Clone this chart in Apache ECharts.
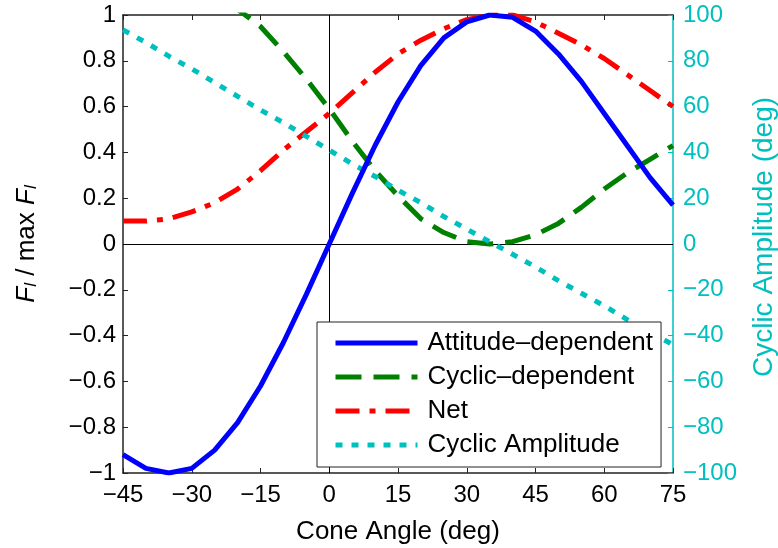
<!DOCTYPE html>
<html>
<head>
<meta charset="utf-8">
<script src="https://cdn.jsdelivr.net/npm/echarts@6/dist/echarts.min.js"></script>
<style>
  html, body { margin: 0; padding: 0; background: #fff; }
  #chart { width: 778px; height: 548px; }
</style>
</head>
<body>
<div id="chart"></div>
<script>
// cone angle samples (deg)
var coneAngle = [-45, -40, -35, -30, -25, -20, -15, -10, -5, 0, 5, 10, 15,
                 20, 25, 30, 35, 40, 45, 50, 55, 60, 65, 70, 75];

// F_l / max F_l
var attitudeDep = [-0.92, -0.98, -1.0, -0.98, -0.9, -0.78, -0.62, -0.43, -0.22, 0, 0.22, 0.43, 0.62,
                   0.78, 0.9, 0.97, 1.0, 0.99, 0.93, 0.83, 0.71, 0.57, 0.43, 0.29, 0.17];
var cyclicDep = [1.02, 1.08, 1.11, 1.12, 1.08, 1.025, 0.95, 0.84, 0.72, 0.59, 0.45, 0.32, 0.21,
                 0.11, 0.05, 0.01, 0.0, 0.01, 0.04, 0.09, 0.16, 0.24, 0.31, 0.37, 0.43];
var netForce = [0.1, 0.1, 0.11, 0.14, 0.18, 0.24, 0.32, 0.41, 0.49, 0.57, 0.66, 0.75, 0.83,
                0.89, 0.94, 0.98, 1.0, 1.0, 0.97, 0.92, 0.87, 0.81, 0.74, 0.67, 0.6];

// cyclic amplitude (deg), right axis
var cyclicAmp = [93.5, 88, 82, 76.5, 70.5, 64.5, 58.5, 53, 47, 41, 35, 29.5, 23.5,
                 18, 12, 6.5, 1, -4.5, -10, -16, -21.5, -27, -33, -38.5, -44];

var seriesNames = ['Attitude\u2013dependent', 'Cyclic\u2013dependent', 'Net', 'Cyclic Amplitude'];

function pairs(ys) {
    return coneAngle.map(function(x, i) { return [x, ys[i]]; });
}

function minus(v) {
    return String(v).replace('-', '\u2212');
}

var FONT = '"Liberation Sans", Arial, sans-serif';
var AXIS = '#222';
var CYAN = '#00bfbf';
var LW = 5;

var chart = echarts.init(document.getElementById('chart'));

var option = {
    animation: false,
    textStyle: { fontFamily: FONT },
    grid: { left: 123, right: 105, top: 15, bottom: 75, outerBoundsMode: 'none', containLabel: false },
    legend: {
        orient: 'vertical',
        left: 317,
        top: 322,
        padding: [8, 8, 9, 16],
        itemWidth: 82,
        itemHeight: 14,
        itemGap: 8,
        backgroundColor: '#fff',
        borderColor: AXIS,
        borderWidth: 1,
        z: 10,
        itemStyle: { opacity: 0 },
        lineStyle: { width: LW },
        textStyle: { fontFamily: FONT, fontSize: 26, lineHeight: 25, color: '#000', padding: [0, 0, 0, 5] },
        data: seriesNames
    },
    xAxis: [{
        type: 'value',
        min: -45, max: 75, interval: 15,
        name: 'Cone Angle (deg)',
        nameLocation: 'middle',
        nameGap: 46,
        nameTextStyle: { fontSize: 26, color: '#000', fontFamily: FONT },
        axisLine: { onZero: false, lineStyle: { color: AXIS, width: 1.5 } },
        axisTick: { inside: true, length: 5, lineStyle: { color: AXIS } },
        axisLabel: { fontSize: 24, color: '#000', margin: 10, formatter: minus },
        splitLine: { show: false }
    }, {
        type: 'value',
        position: 'top',
        min: -45, max: 75, interval: 15,
        axisLine: { onZero: false, lineStyle: { color: AXIS, width: 1.5 } },
        axisTick: { inside: true, length: 5, lineStyle: { color: AXIS } },
        axisLabel: { show: false },
        splitLine: { show: false }
    }],
    yAxis: [{
        type: 'value',
        min: -1, max: 1, interval: 0.2,
        name: '{i|F}{s|l} / max {i|F}{s|l}',
        nameLocation: 'middle',
        nameGap: 83,
        nameTextStyle: {
            fontSize: 26, color: '#000', fontFamily: FONT,
            rich: {
                i: { fontSize: 26, fontStyle: 'italic', fontFamily: FONT },
                s: { fontSize: 17, fontStyle: 'italic', fontFamily: FONT, verticalAlign: 'bottom', padding: [10, 0, 0, 0] }
            }
        },
        axisLine: { onZero: false, lineStyle: { color: AXIS, width: 1.5 } },
        axisTick: { inside: true, length: 5, lineStyle: { color: AXIS } },
        axisLabel: { fontSize: 24, color: '#000', margin: 7, formatter: minus },
        splitLine: { show: false }
    }, {
        type: 'value',
        position: 'right',
        min: -100, max: 100, interval: 20,
        name: 'Cyclic Amplitude (deg)',
        nameLocation: 'middle',
        nameGap: 77,
        nameRotate: 90,
        nameTextStyle: { fontSize: 28, color: CYAN, fontFamily: FONT, padding: [0, 0, 0, 14] },
        axisLine: { onZero: false, lineStyle: { color: CYAN, width: 1.5 } },
        axisTick: { inside: true, length: 5, lineStyle: { color: CYAN } },
        axisLabel: { fontSize: 24, color: CYAN, margin: 10, formatter: minus },
        splitLine: { show: false }
    }],
    series: [{
        type: 'line',
        name: seriesNames[0],
        data: pairs(attitudeDep),
        showSymbol: false,
        symbol: 'none',
        z: 4,
        lineStyle: { color: '#0000ff', width: LW },
        itemStyle: { color: '#0000ff' },
        markLine: {
            silent: true,
            symbol: 'none',
            z: 1,
            label: { show: false },
            lineStyle: { color: '#000', width: 1, type: 'solid' },
            data: [{ xAxis: 0 }, { yAxis: 0 }]
        }
    }, {
        type: 'line',
        name: seriesNames[1],
        data: pairs(cyclicDep),
        showSymbol: false,
        symbol: 'none',
        z: 3,
        lineStyle: { color: '#008000', width: LW, type: [26, 12] },
        itemStyle: { color: '#008000' }
    }, {
        type: 'line',
        name: seriesNames[2],
        data: pairs(netForce),
        showSymbol: false,
        symbol: 'none',
        z: 3,
        lineStyle: { color: '#ff0000', width: LW, type: [24, 10, 6, 10] },
        itemStyle: { color: '#ff0000' }
    }, {
        type: 'line',
        name: seriesNames[3],
        yAxisIndex: 1,
        data: pairs(cyclicAmp),
        showSymbol: false,
        symbol: 'none',
        z: 3,
        lineStyle: { color: CYAN, width: LW, type: [7, 9] },
        itemStyle: { color: CYAN }
    }]
};

chart.setOption(option);
</script>
</body>
</html>
